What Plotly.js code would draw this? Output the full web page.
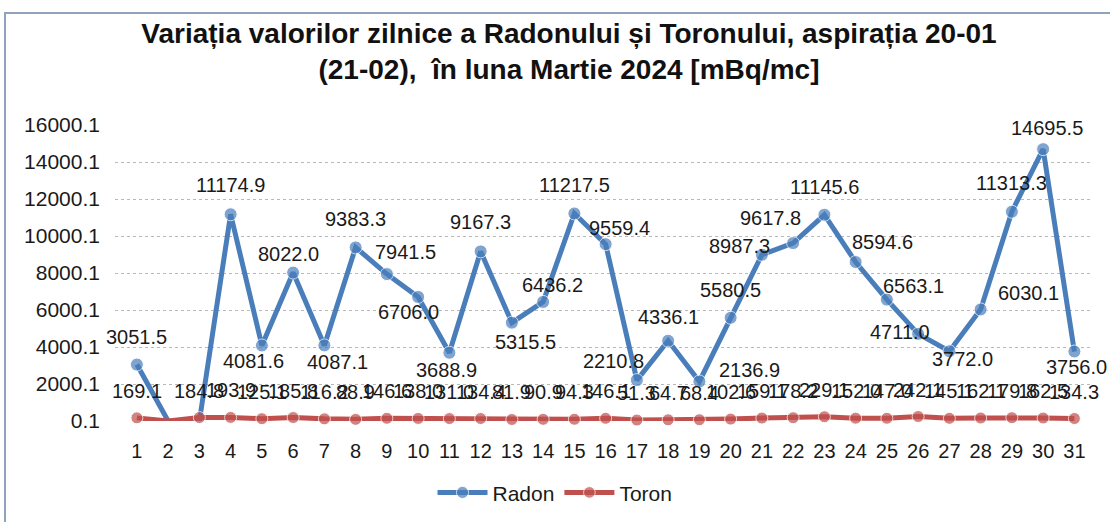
<!DOCTYPE html>
<html>
<head>
<meta charset="utf-8">
<script src="https://cdn.plot.ly/plotly-3.0.1.min.js"></script>
<style>
  html, body { margin: 0; padding: 0; background: #fff; overflow: hidden; }
  #wrap { position: relative; width: 1110px; height: 522px; }
  #chart { width: 1110px; height: 522px; }
  #frame { position: absolute; left: 4px; top: 12px; width: 1200px; height: 700px;
           border-left: 2px solid #8fa3bf; border-top: 2px solid #8fa3bf; pointer-events: none; }
</style>
</head>
<body>
<div id="wrap">
  <div id="chart"></div>
  <div id="frame"></div>
</div>
<script>
// ---- data ----
const days = [1,2,3,4,5,6,7,8,9,10,11,12,13,14,15,16,17,18,19,20,21,22,23,24,25,26,27,28,29,30,31];
const radon = [3051.5,0,0,11174.9,4081.6,8022.0,4087.1,9383.3,7941.5,6706.0,3688.9,9167.3,5315.5,6436.2,11217.5,9559.4,2210.8,4336.1,2136.9,5580.5,8987.3,9617.8,11145.6,8594.6,6563.1,4711.0,3772.0,6030.1,11313.3,14695.5,3756.0];
const toron = [169.1,0,184.8,193.9,125.1,185.8,116.2,88.9,146.6,138.0,131.0,134.4,81.9,90.9,94.3,146.1,51.3,64.7,68.4,102.6,159.1,178.2,229.1,152.0,147.0,242.1,145.1,162.1,179.8,162.5,134.3];
const yTickVals = [0.1,2000.1,4000.1,6000.1,8000.1,10000.1,12000.1,14000.1,16000.1];
const yTickText = ['0.1','2000.1','4000.1','6000.1','8000.1','10000.1','12000.1','14000.1','16000.1'];
// days without a shown label / marker (index)
const radonHidden = [1,2];
const toronHidden = [1];

// ---- styling: label offsets in pixels [dx, dy] for Radon labels ----
const radonOffsets = [[0,-28],[0,0],[0,0],[0,-29],[-8,16],[-5,-19],[13,17],[0,-28],[19,-22],[-10,15],
  [-3,17],[0,-29],[14,19],[9,-17],[0,-28],[14,-16],[-23,-19],[0,-24],[50,-11],[0,-28],
  [-22,-9],[-23,-25],[0,-28],[27,-20],[27,-14],[-18,-2],[13,8],[48,-16],[0,-29],[4,-21],[2,15]];

const font = 'Liberation Sans, Arial, sans-serif';
const blue = '#4a7ebb', red = '#c0504d';
const traces = [
  { x: days, y: radon, name: 'Radon', type: 'scatter', mode: 'lines+markers',
    line: { color: blue, width: 5 },
    marker: { color: blue, size: days.map((d,i) => radonHidden.includes(i) ? 0 : 13) },
    cliponaxis: false },
  { x: days, y: toron, name: 'Toron', type: 'scatter', mode: 'lines+markers',
    line: { color: red, width: 5 },
    marker: { color: red, size: days.map((d,i) => toronHidden.includes(i) ? 0 : 12) },
    cliponaxis: false }
];
const annotations = [];
radon.forEach((v,i) => {
  if (radonHidden.includes(i)) return;
  annotations.push({ x: days[i], y: v, xref: 'x', yref: 'y', text: v.toFixed(1), showarrow: false,
    xshift: radonOffsets[i][0], yshift: -radonOffsets[i][1],
    font: { family: font, size: 20, color: '#1a1a1a' } });
});
toron.forEach((v,i) => {
  if (toronHidden.includes(i)) return;
  annotations.push({ x: days[i], y: v, xref: 'x', yref: 'y', text: v.toFixed(1), showarrow: false,
    xshift: 0, yshift: 27, font: { family: font, size: 20, color: '#1a1a1a' } });
});

const layout = {
  width: 1110, height: 522,
  margin: { l: 115, r: 20, t: 125, b: 101 },
  paper_bgcolor: '#fff', plot_bgcolor: '#fff',
  title: { text: 'Variația valorilor zilnice a Radonului și Toronului, aspirația 20-01<br>(21-02),  în luna Martie 2024 [mBq/mc]',
    font: { family: font, size: 28, color: '#111', weight: 'bold' }, x: 0.5126, xanchor: 'center', y: 0.918, yanchor: 'middle' },
  xaxis: { range: [0.3, 31.5], tickvals: days, ticktext: days.map(String), showgrid: false, zeroline: false,
    showline: false, ticks: '', ticklabelstandoff: 16, tickfont: { family: font, size: 20, color: '#1a1a1a' } },
  yaxis: { range: [0.1, 16000.1], tickvals: yTickVals, ticktext: yTickText, showgrid: true, gridcolor: '#b8b8b8',
    griddash: 'dot', gridwidth: 1, zeroline: false, showline: false, ticks: '', ticklabelstandoff: 14,
    tickfont: { family: font, size: 21, color: '#1a1a1a' } },
  annotations: annotations,
  showlegend: true,
  legend: { orientation: 'h', xref: 'container', yref: 'container', x: 0.5, xanchor: 'center', y: 0.056, yanchor: 'middle',
    font: { family: font, size: 21, color: '#1a1a1a' }, itemwidth: 50 }
};
Plotly.newPlot('chart', traces, layout, { displayModeBar: false, staticPlot: true });
</script>
</body>
</html>
